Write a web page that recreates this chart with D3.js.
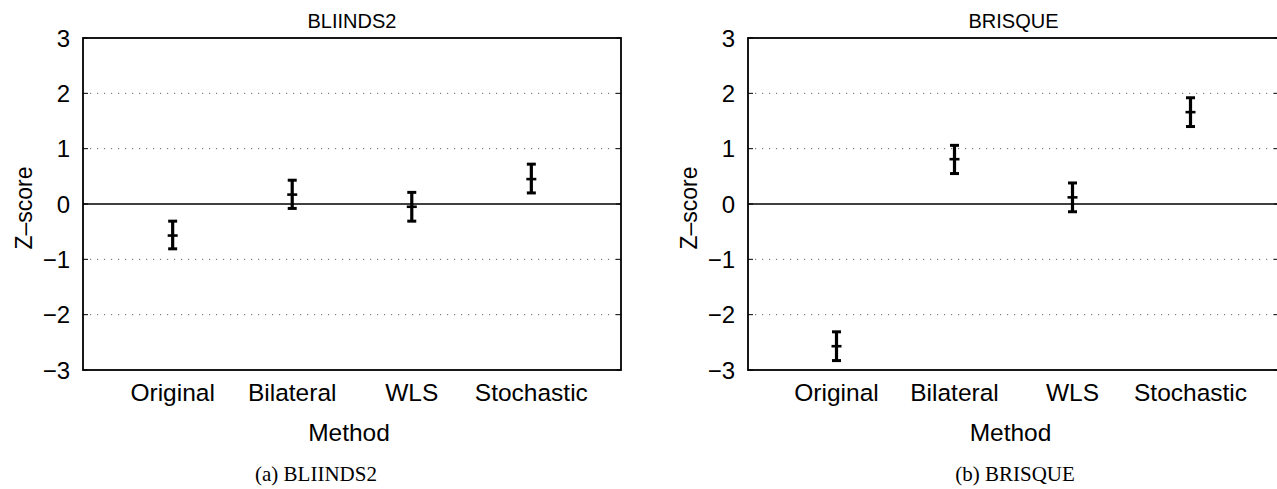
<!DOCTYPE html>
<html>
<head>
<meta charset="utf-8">
<script src="https://cdn.jsdelivr.net/npm/d3@7"></script>
<style>
  html, body { margin: 0; padding: 0; background: #fff; }
  svg { display: block; }
  text { font-family: "Liberation Sans", Arial, Helvetica, sans-serif; fill: #000; }
  .caption { font-family: "Liberation Serif", "Times New Roman", serif; }
</style>
</head>
<body>
<div id="chart"></div>
<script>
const methods = ["Original", "Bilateral", "WLS", "Stochastic"];
const yTicks = [-3, -2, -1, 0, 1, 2, 3];

// BLIINDS2 z-scores: mean and interval ends
const bliindsMean = [-0.57, 0.17, -0.05, 0.45];
const bliindsLow  = [-0.81, -0.08, -0.31, 0.20];
const bliindsHigh = [-0.31, 0.43, 0.21, 0.72];

// BRISQUE z-scores
const brisqueMean = [-2.57, 0.81, 0.12, 1.66];
const brisqueLow  = [-2.83, 0.55, -0.14, 1.40];
const brisqueHigh = [-2.31, 1.06, 0.38, 1.92];

const W = 1277, H = 489;
const plotTop = 38, plotBottom = 370;

const svg = d3.select("#chart").append("svg")
  .attr("width", W)
  .attr("height", H);

const panels = [
  { title: "BLIINDS2", caption: "(a) BLIINDS2", left: 83, right: 621, capX: 316,
    mean: bliindsMean, low: bliindsLow, high: bliindsHigh },
  { title: "BRISQUE", caption: "(b) BRISQUE", left: 748, right: 1279, capX: 1015,
    mean: brisqueMean, low: brisqueLow, high: brisqueHigh }
];

panels.forEach(p => {
  const g = svg.append("g");
  const data = methods.map((m, i) => ({ m, i, mean: p.mean[i], low: p.low[i], high: p.high[i] }));

  const x = d3.scaleLinear().domain([0.25, 4.75]).range([p.left, p.right]);
  const y = d3.scaleLinear().domain([-3, 3]).range([plotBottom, plotTop]);

  // dotted grid
  g.selectAll("line.grid")
    .data(yTicks.filter(t => t !== 0 && Math.abs(t) !== 3))
    .enter().append("line")
    .attr("x1", p.left).attr("x2", p.right)
    .attr("y1", d => y(d)).attr("y2", d => y(d))
    .attr("stroke", "#666")
    .attr("stroke-width", 1)
    .attr("stroke-dasharray", "1.2,5.8");

  // zero line
  g.append("line")
    .attr("x1", p.left).attr("x2", p.right)
    .attr("y1", y(0)).attr("y2", y(0))
    .attr("stroke", "#000").attr("stroke-width", 1.3);

  // inside ticks on both sides
  yTicks.forEach(t => {
    g.append("line").attr("x1", p.left).attr("x2", p.left + 5)
      .attr("y1", y(t)).attr("y2", y(t)).attr("stroke", "#000").attr("stroke-width", 1);
    g.append("line").attr("x1", p.right).attr("x2", p.right - 5)
      .attr("y1", y(t)).attr("y2", y(t)).attr("stroke", "#000").attr("stroke-width", 1);
  });

  // box
  g.append("rect")
    .attr("x", p.left).attr("y", plotTop)
    .attr("width", p.right - p.left).attr("height", plotBottom - plotTop)
    .attr("fill", "none").attr("stroke", "#000").attr("stroke-width", 1.8);

  // y tick labels
  g.selectAll("text.ytick")
    .data(yTicks)
    .enter().append("text")
    .attr("x", p.left - 13)
    .attr("y", d => y(d))
    .attr("dy", "0.36em")
    .attr("text-anchor", "end")
    .style("font-size", "24px")
    .text(d => d < 0 ? "\u2212" + Math.abs(d) : d);

  // x tick labels
  g.selectAll("text.xtick")
    .data(data)
    .enter().append("text")
    .attr("x", d => x(d.i + 1))
    .attr("y", 401)
    .attr("text-anchor", "middle")
    .style("font-size", "24.5px")
    .text(d => d.m);

  // error bars
  const bars = g.selectAll("g.bar").data(data).enter().append("g");
  bars.append("line")
    .attr("x1", d => x(d.i + 1)).attr("x2", d => x(d.i + 1))
    .attr("y1", d => y(d.low)).attr("y2", d => y(d.high))
    .attr("stroke", "#000").attr("stroke-width", 3.2);
  ["low", "high"].forEach(k => {
    bars.append("line")
      .attr("x1", d => x(d.i + 1) - 4.5).attr("x2", d => x(d.i + 1) + 4.5)
      .attr("y1", d => y(d[k])).attr("y2", d => y(d[k]))
      .attr("stroke", "#000").attr("stroke-width", 3);
  });
  bars.append("line")
    .attr("x1", d => x(d.i + 1) - 5).attr("x2", d => x(d.i + 1) + 5)
    .attr("y1", d => y(d.mean)).attr("y2", d => y(d.mean))
    .attr("stroke", "#000").attr("stroke-width", 2.6);

  const mid = (p.left + p.right) / 2;

  // title
  g.append("text")
    .attr("x", mid).attr("y", 28)
    .attr("text-anchor", "middle")
    .style("font-size", "20px")
    .text(p.title);

  // axis labels
  g.append("text")
    .attr("x", mid - 3).attr("y", 441)
    .attr("text-anchor", "middle")
    .style("font-size", "24.5px")
    .text("Method");

  g.append("text")
    .attr("transform", `translate(${p.left - 51},${(plotTop + plotBottom) / 2 + 4}) rotate(-90)`)
    .attr("text-anchor", "middle")
    .style("font-size", "23px")
    .text("Z\u2013score");

  // caption
  g.append("text")
    .attr("class", "caption")
    .attr("x", p.capX).attr("y", 481)
    .attr("text-anchor", "middle")
    .style("font-size", "21px")
    .text(p.caption);
});
</script>
</body>
</html>
